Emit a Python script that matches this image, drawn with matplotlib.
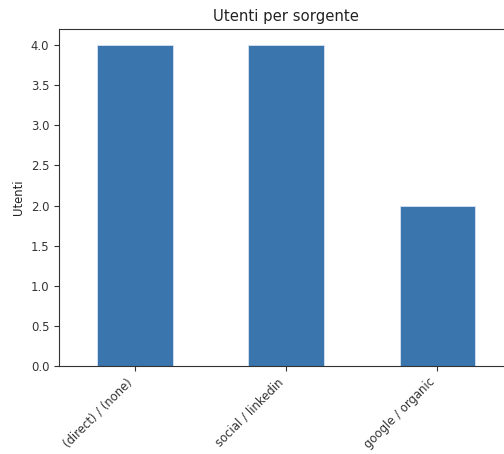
import matplotlib
matplotlib.use("Agg")
import matplotlib.pyplot as plt

categories = ["(direct) / (none)", "social / linkedin", "google / organic"]
users = [4, 4, 2]

fs = 8.4
fig = plt.figure(figsize=(5.04, 4.54), dpi=100)
ax = fig.add_axes([59/504, 88/454, 454/504, 337/454])
x = list(range(len(categories)))
ax.bar(x, users, width=0.5, color="#3a75ae", edgecolor="#d6e4f2", linewidth=0.6)
ax.set_xlim(-0.5, 2.5)
ax.set_ylim(0, 4.2)
ax.set_xticks(x)
ax.set_xticklabels(categories, rotation=45, ha="right", fontsize=fs, color="#222222")
ax.set_yticks([0, 0.5, 1, 1.5, 2, 2.5, 3, 3.5, 4])
ax.set_yticklabels([f"{v:.1f}" for v in [0, 0.5, 1, 1.5, 2, 2.5, 3, 3.5, 4]], fontsize=fs, color="#222222")
ax.set_ylabel("Utenti", fontsize=fs, color="#222222")
ax.set_title("Utenti per sorgente", fontsize=10.7, color="#222222")
ax.tick_params(colors="#333333")
for s in ax.spines.values():
    s.set_color("#333333")
    s.set_linewidth(0.8)
fig.savefig("out.png", dpi=100)
